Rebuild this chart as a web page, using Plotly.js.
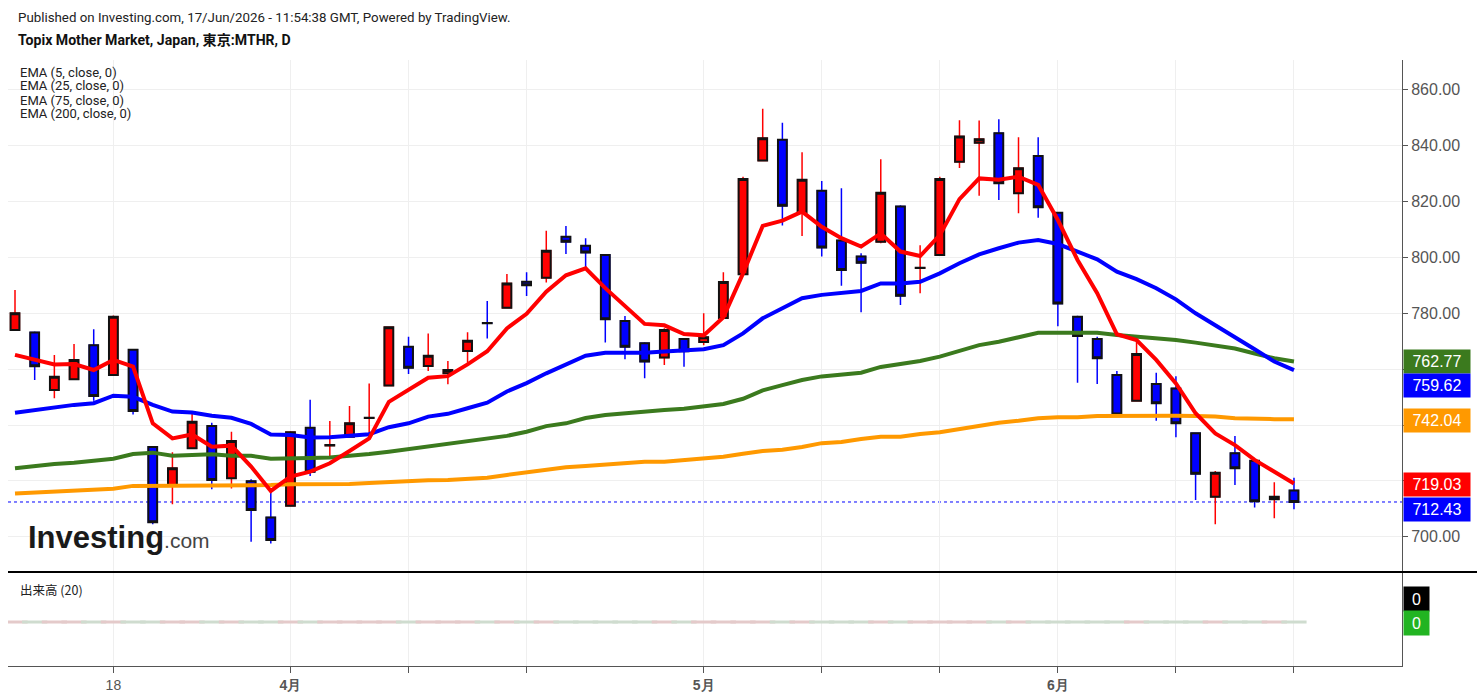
<!DOCTYPE html>
<html>
<head>
<meta charset="utf-8">
<script src="https://cdn.plot.ly/plotly-3.0.1.min.js"></script>
<style>
  html, body { margin: 0; padding: 0; background: #ffffff; }
  #chart { width: 1477px; height: 699px; }
</style>
</head>
<body>
<div id="chart"></div>
<script>
// ---- Data ----
const dates = [
  "2026-03-11","2026-03-12","2026-03-13","2026-03-16","2026-03-17","2026-03-18","2026-03-19","2026-03-23","2026-03-24","2026-03-25",
  "2026-03-26","2026-03-27","2026-03-30","2026-03-31","2026-04-01","2026-04-02","2026-04-03","2026-04-06","2026-04-07","2026-04-08",
  "2026-04-09","2026-04-10","2026-04-13","2026-04-14","2026-04-15","2026-04-16","2026-04-17","2026-04-20","2026-04-21","2026-04-22",
  "2026-04-23","2026-04-24","2026-04-27","2026-04-28","2026-04-30","2026-05-01","2026-05-07","2026-05-08","2026-05-11","2026-05-12",
  "2026-05-13","2026-05-14","2026-05-15","2026-05-18","2026-05-19","2026-05-20","2026-05-21","2026-05-22","2026-05-25","2026-05-26",
  "2026-05-27","2026-05-28","2026-05-29","2026-06-01","2026-06-02","2026-06-03","2026-06-04","2026-06-05","2026-06-08","2026-06-09",
  "2026-06-10","2026-06-11","2026-06-12","2026-06-15","2026-06-16","2026-06-17"
];
const openP = [
  774.0,773.1,752.5,756.4,768.6,757.9,766.9,732.1,718.2,731.7,
  739.6,720.9,719.9,706.9,711.1,739.0,732.7,735.8,742.5,754.1,
  768.0,761.1,758.5,766.5,776.5,782.0,791.3,792.7,807.4,804.2,
  800.9,777.2,769.3,764.2,770.8,769.7,778.3,794.0,834.7,842.1,
  816.0,823.9,806.1,800.3,805.6,818.2,796.2,800.9,834.3,841.1,
  844.5,823.0,836.3,816.0,778.8,770.8,757.9,748.7,754.7,753.1,
  737.0,714.3,729.9,727.2,713.4,716.5
];
const highP = [
  788.3,773.5,765.1,769.0,774.3,779.2,767.2,732.5,730.2,744.2,
  740.8,737.6,720.6,716.1,737.8,749.0,741.4,746.8,754.9,775.3,
  771.6,772.8,762.9,773.2,784.4,794.1,794.7,809.6,811.3,806.9,
  801.2,779.0,769.6,774.6,771.1,780.0,794.7,828.9,853.2,848.2,
  837.7,827.4,824.8,801.5,835.2,818.7,804.4,828.9,849.1,849.0,
  849.5,843.0,843.0,816.3,779.1,771.6,759.3,771.9,758.7,757.5,
  737.3,723.5,736.1,727.8,719.5,721.1
];
const lowP = [
  773.8,756.1,749.6,756.2,748.7,757.6,743.8,704.5,711.6,731.5,
  717.0,717.3,698.2,697.6,710.8,721.7,728.6,735.5,735.8,753.9,
  758.3,759.3,754.6,762.3,771.0,781.7,786.2,791.0,801.2,796.5,
  769.5,763.5,756.7,761.5,760.9,768.6,778.0,793.7,834.4,811.4,
  807.7,800.3,789.9,780.4,805.1,783.0,787.2,800.6,832.0,822.1,
  820.6,815.8,814.2,775.4,755.1,754.7,743.0,748.4,741.5,735.6,
  713.1,704.5,718.5,710.5,706.6,709.8
];
const closeP = [
  780.0,761.0,757.3,763.3,750.4,778.8,745.0,705.2,724.5,741.2,
  720.3,734.3,709.6,698.8,737.4,723.3,732.8,740.6,742.6,775.0,
  760.5,764.8,759.7,770.2,776.4,790.7,790.0,802.4,805.6,801.8,
  777.9,768.0,762.7,774.0,766.4,771.4,791.2,828.1,842.7,818.5,
  827.8,803.6,795.5,798.1,823.2,786.3,796.3,828.1,843.3,842.3,
  826.6,831.9,818.0,783.5,771.9,763.9,743.8,765.4,747.8,740.6,
  722.5,722.9,724.5,712.7,714.3,712.43
];
const ema5 = [
  765.1,763.3,761.7,761.8,759.7,763.3,760.9,740.6,735.2,736.6,
  732.2,732.6,725.1,716.4,721.5,723.3,726.3,730.7,735.2,748.3,
  752.5,756.9,757.5,761.7,766.4,774.6,779.8,787.7,793.6,796.1,
  789.0,782.4,776.2,775.7,772.6,772.1,778.6,794.3,811.3,813.2,
  816.4,811.0,806.9,803.9,808.6,802.1,800.5,808.0,820.9,828.3,
  827.8,828.9,826.0,813.4,799.1,787.2,772.5,770.4,763.3,754.9,
  744.2,737.0,732.8,727.5,723.3,719.03
];
const ema25 = [
  744.4,745.4,746.2,747.2,747.8,750.5,750.1,747.2,744.8,744.5,
  743.3,742.6,740.4,736.6,736.4,735.5,735.6,736.1,736.7,739.2,
  740.6,743.0,744.0,746.0,748.0,752.0,755.0,758.5,761.5,764.8,
  765.9,765.9,765.9,766.3,766.6,767.1,768.6,772.8,778.2,781.8,
  785.4,786.6,787.4,788.0,790.7,790.7,791.3,794.3,797.9,801.1,
  803.3,805.3,806.2,804.8,802.1,799.3,794.9,792.2,789.0,785.0,
  780.0,775.8,771.6,767.1,762.7,759.62
];
const ema75 = [
  724.5,725.4,726.0,726.5,727.2,727.9,729.6,730.1,729.0,729.1,
  729.5,729.0,729.0,727.9,727.9,728.2,728.4,728.9,729.6,730.4,
  731.3,732.2,733.1,734.0,734.9,736.1,737.6,739.6,740.6,742.5,
  743.6,744.3,744.7,745.4,745.8,746.5,747.5,749.4,752.4,754.3,
  756.1,757.4,758.0,758.7,760.8,761.8,762.9,764.5,766.6,768.6,
  769.8,771.4,773.0,773.0,773.0,773.0,772.2,771.6,771.3,770.4,
  769.5,768.6,767.4,765.6,763.9,762.77
];
const ema200 = [
  715.5,715.9,716.3,716.6,717.0,717.2,718.2,718.2,718.2,718.2,
  718.2,718.4,718.5,718.5,718.8,718.8,718.8,718.9,719.2,719.6,
  719.9,720.2,720.3,720.6,721.1,722.1,723.1,724.2,724.9,725.3,
  725.7,726.4,726.8,726.8,727.5,727.9,728.6,729.7,730.7,731.1,
  732.1,733.5,733.9,735.0,735.8,735.8,736.8,737.4,738.5,739.6,
  740.8,741.5,742.4,742.8,742.8,743.2,743.3,743.3,743.3,743.3,
  743.2,743.0,742.4,742.1,742.1,742.04
];
const volume = new Array(dates.length).fill(0);

const priceTicks = [700, 720, 740, 760, 780, 800, 820, 840, 860];
// 720/740/760 labels are hidden behind the value boxes in the reference
const hiddenTickLabels = [720, 740, 760];
const dateTickVals = ["2026-03-18","2026-04-01","2026-04-09","2026-04-17","2026-05-01","2026-05-14","2026-05-22","2026-06-01","2026-06-09","2026-06-17"];
const dateTickText = ["18","<b>4月</b>","","","<b>5月</b>","","","<b>6月</b>","",""];
const emaNames = ["EMA (5, close, 0)","EMA (25, close, 0)","EMA (75, close, 0)","EMA (200, close, 0)"];

// ---- Styling ----
const RED = "#ff0000", BLUE = "#0000ff", GREEN = "#3b7a1e", ORANGE = "#ff9900";
const W = 1477, H = 699;
const M = {l: 8, r: 75, t: 60, b: 33};
const plotW = W - M.l - M.r, plotH = H - M.t - M.b;
const volFrac = (666 - 572) / plotH;
const px = x => (x - M.l) / plotW;
const py = y => (H - M.b - y) / plotH;

const emaTrace = (y, color) => ({
  type: "scatter", mode: "lines", x: dates, y: y, xaxis: "x", yaxis: "y",
  line: {color: color, width: 4}, hoverinfo: "skip", showlegend: false
});

const volColors = closeP.map((c, i) => c >= openP[i] ? "#e4caca" : "#cfdccf");

const traces = [
  emaTrace(ema200, ORANGE),
  emaTrace(ema75, GREEN),
  emaTrace(ema25, BLUE),
  emaTrace(ema5, RED),
  // wicks (coloured)
  {
    type: "candlestick", x: dates, open: openP, high: highP, low: lowP, close: closeP,
    xaxis: "x", yaxis: "y", hoverinfo: "skip", showlegend: false, whiskerwidth: 0,
    increasing: {line: {color: RED, width: 1.5}, fillcolor: RED},
    decreasing: {line: {color: BLUE, width: 1.5}, fillcolor: BLUE}
  },
  // bodies with black outline
  {
    type: "candlestick", x: dates, open: openP, close: closeP,
    high: openP.map((o, i) => Math.max(o, closeP[i])),
    low: openP.map((o, i) => Math.min(o, closeP[i])),
    xaxis: "x", yaxis: "y", hoverinfo: "skip", showlegend: false, whiskerwidth: 0,
    increasing: {line: {color: "#111111", width: 2}, fillcolor: RED},
    decreasing: {line: {color: "#111111", width: 2}, fillcolor: BLUE}
  },
  // volume pane (all zero)
  {
    type: "scatter", mode: "markers", x: dates, y: volume, xaxis: "x", yaxis: "y2",
    marker: {symbol: "line-ew-open", size: 18, color: volColors,
      line: {width: 3, color: volColors}},
    hoverinfo: "skip", showlegend: false
  }
];

const lastIdx = dates.length - 1;
const valueLabels = [
  {v: ema75[lastIdx], bg: GREEN, shift: 0},
  {v: ema25[lastIdx], bg: BLUE, shift: -15},
  {v: ema200[lastIdx], bg: ORANGE, shift: -1},
  {v: ema5[lastIdx], bg: RED, shift: -1},
  {v: closeP[lastIdx], bg: BLUE, shift: -8}
];

const annotations = [];
valueLabels.forEach(l => annotations.push({
  xref: "paper", yref: "y", x: 1, y: l.v, xanchor: "left", yanchor: "middle",
  xshift: 1, yshift: l.shift, text: l.v.toFixed(2), showarrow: false,
  bgcolor: l.bg, width: 62, height: 19, borderpad: 2, align: "center",
  font: {family: "Liberation Sans, Arial, sans-serif", size: 16, color: "#ffffff"}
}));
// volume value labels
annotations.push({
  xref: "paper", yref: "y2", x: 1, y: 0, xanchor: "left", yanchor: "middle", xshift: 1, yshift: 23,
  text: "0", showarrow: false, bgcolor: "#000000", width: 21, height: 20, borderpad: 2,
  font: {family: "Liberation Sans, Arial, sans-serif", size: 16, color: "#ffffff"}
});
annotations.push({
  xref: "paper", yref: "y2", x: 1, y: 0, xanchor: "left", yanchor: "middle", xshift: 1, yshift: -1,
  text: "0", showarrow: false, bgcolor: "#22b422", width: 21, height: 20, borderpad: 2,
  font: {family: "Liberation Sans, Arial, sans-serif", size: 16, color: "#ffffff"}
});
// header texts
annotations.push({
  xref: "paper", yref: "paper", x: px(16), y: py(17), xanchor: "left", yanchor: "middle",
  text: "Published on Investing.com, 17/Jun/2026 - 11:54:38 GMT, Powered by TradingView.",
  showarrow: false, font: {family: "Roboto, Arial, sans-serif", size: 13.3, color: "#222222"}
});
annotations.push({
  xref: "paper", yref: "paper", x: px(16), y: py(40), xanchor: "left", yanchor: "middle",
  text: "<b>Topix Mother Market, Japan, 東京:MTHR, D</b>",
  showarrow: false, font: {family: "Roboto, 'Noto Sans CJK JP', sans-serif", size: 14.1, color: "#111111"}
});
emaNames.forEach((t, i) => annotations.push({
  xref: "paper", yref: "paper", x: px(18), y: py(72 + i * 14), xanchor: "left", yanchor: "middle",
  text: t, showarrow: false, font: {family: "Roboto, Arial, sans-serif", size: 13, color: "#222222"}
}));
annotations.push({
  xref: "paper", yref: "paper", x: px(18), y: py(589), xanchor: "left", yanchor: "middle",
  text: "出来高 (20)", showarrow: false,
  font: {family: "'Noto Sans CJK JP', Roboto, sans-serif", size: 12.5, color: "#222222"}
});
// watermark
annotations.push({
  xref: "paper", yref: "paper", x: px(26), y: py(537), xanchor: "left", yanchor: "middle",
  text: "<b>Investing</b><span style='font-size:21px;color:#444444'>.com</span>", showarrow: false,
  font: {family: "Liberation Sans, Arial, sans-serif", size: 31, color: "#1a1a1a"}
});

const layout = {
  width: W, height: H, autosize: false,
  margin: M,
  paper_bgcolor: "#ffffff", plot_bgcolor: "#ffffff",
  showlegend: false,
  boxgap: 0.36,
  xaxis: {
    type: "category", anchor: "y2", range: [-0.356, 70.49],
    rangeslider: {visible: false}, fixedrange: true,
    tickmode: "array", tickvals: dateTickVals, ticktext: dateTickText,
    ticks: "outside", ticklen: 6, tickcolor: "#555555",
    showline: true, linecolor: "#555555", linewidth: 1,
    showgrid: true, gridcolor: "#efefef", gridwidth: 1,
    tickfont: {family: "Liberation Sans, Arial, sans-serif", size: 14, color: "#555555"}
  },
  yaxis: {
    domain: [volFrac, 1], anchor: "x", side: "right",
    range: [687.36, 870.7], fixedrange: true,
    tickmode: "array", tickvals: priceTicks,
    ticktext: priceTicks.map(v => hiddenTickLabels.includes(v) ? "" : v.toFixed(2)),
    ticks: "outside", ticklen: 5, tickcolor: "#555555",
    showline: true, linecolor: "#555555", linewidth: 1,
    showgrid: true, gridcolor: "#efefef", gridwidth: 1, zeroline: false,
    tickfont: {family: "Liberation Sans, Arial, sans-serif", size: 16, color: "#555555"}
  },
  yaxis2: {
    domain: [0, volFrac], anchor: "x", side: "right",
    range: [-0.468, 0.532], fixedrange: true,
    showticklabels: false, ticks: "", showgrid: false, zeroline: false,
    showline: true, linecolor: "#555555", linewidth: 1
  },
  shapes: [
    {type: "line", xref: "paper", yref: "y", x0: 0, x1: 1, y0: closeP[lastIdx], y1: closeP[lastIdx],
     line: {color: BLUE, width: 1, dash: "dot"}, layer: "below"},
    {type: "line", xref: "paper", yref: "paper", x0: 0, x1: px(1477), y0: volFrac, y1: volFrac,
     line: {color: "#000000", width: 2}}
  ],
  annotations: annotations
};

Plotly.newPlot("chart", traces, layout, {displayModeBar: false, staticPlot: true});
</script>
</body>
</html>
